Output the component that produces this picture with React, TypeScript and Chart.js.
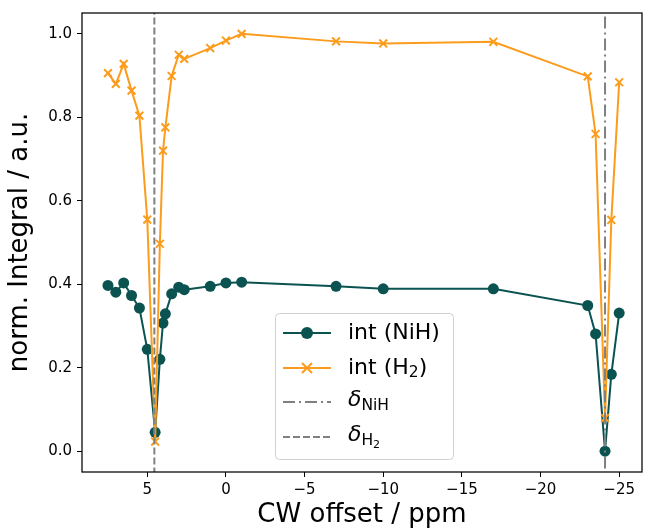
import React, { useEffect, useRef } from "react";
import { Chart, registerables } from "chart.js";

Chart.register(...registerables);

// ---- data ----
const offsets = [7.5, 7, 6.5, 6, 5.5, 5, 4.5, 4.2, 4, 3.85, 3.45, 3, 2.65, 1, 0, -1, -7, -10, -17, -23, -23.5, -24.1, -24.5, -25];
const intNiH = [0.397, 0.381, 0.403, 0.373, 0.343, 0.244, 0.045, 0.22, 0.307, 0.329, 0.377, 0.393, 0.387, 0.395, 0.403, 0.405, 0.395, 0.389, 0.389, 0.349, 0.281, 0.0, 0.184, 0.331];
const intH2 = [0.906, 0.88, 0.928, 0.864, 0.804, 0.555, 0.023, 0.497, 0.72, 0.776, 0.899, 0.95, 0.94, 0.966, 0.984, 1.0, 0.982, 0.977, 0.981, 0.898, 0.76, 0.079, 0.554, 0.884];
const deltaNiH = -24.1;
const deltaH2 = 4.55;
const xTicks = [5, 0, -5, -10, -15, -20, -25];
const yTicks = [0, 0.2, 0.4, 0.6, 0.8, 1.0];
const xRange = [-26.45, 9.15];
const yRange = [-0.05, 1.05];

const GREEN = "#0b5351";
const ORANGE = "#fb9c1c";
const GRAY = "#808080";
const FONT = "'DejaVu Sans', sans-serif";

type Seg = { t: string; size: number; dy: number; italic?: boolean };

function drawSegs(ctx: CanvasRenderingContext2D, x: number, y: number, segs: Seg[]) {
  let cx = x;
  for (const s of segs) {
    ctx.font = `${s.italic ? "italic " : ""}${s.size}px ${FONT}`;
    ctx.fillText(s.t, cx, y + s.dy);
    cx += ctx.measureText(s.t).width;
  }
}

const framePlugin = {
  id: "frame",
  afterDatasetsDraw(chart: any) {
    const { ctx, chartArea: a } = chart;
    ctx.save();
    ctx.strokeStyle = "#000";
    ctx.lineWidth = 1.25;
    ctx.strokeRect(a.left, a.top, a.right - a.left, a.bottom - a.top);
    ctx.restore();
  },
};

const legendPlugin = {
  id: "customLegend",
  afterDraw(chart: any) {
    const ctx: CanvasRenderingContext2D = chart.ctx;
    ctx.save();
    const x0 = 275, y0 = 313, w = 178, h = 146;
    ctx.beginPath();
    (ctx as any).roundRect(x0 + 0.5, y0 + 0.5, w, h, 4);
    ctx.fillStyle = "rgba(255,255,255,0.85)";
    ctx.fill();
    ctx.strokeStyle = "#d0d0d0";
    ctx.lineWidth = 1;
    ctx.stroke();

    const lx0 = 283, lx1 = 331, tx = 348;
    const rows = [333, 368, 402, 437];
    const fs = 22;
    const sub = 15.5;
    ctx.lineWidth = 2;
    // row 1
    ctx.strokeStyle = GREEN;
    ctx.setLineDash([]);
    ctx.beginPath(); ctx.moveTo(lx0, rows[0]); ctx.lineTo(lx1, rows[0]); ctx.stroke();
    ctx.fillStyle = GREEN;
    ctx.beginPath(); ctx.arc((lx0 + lx1) / 2, rows[0], 6, 0, Math.PI * 2); ctx.fill();
    // row 2
    ctx.strokeStyle = ORANGE;
    ctx.beginPath(); ctx.moveTo(lx0, rows[1]); ctx.lineTo(lx1, rows[1]); ctx.stroke();
    const mx = (lx0 + lx1) / 2, r = 5;
    ctx.beginPath();
    ctx.moveTo(mx - r, rows[1] - r); ctx.lineTo(mx + r, rows[1] + r);
    ctx.moveTo(mx - r, rows[1] + r); ctx.lineTo(mx + r, rows[1] - r);
    ctx.stroke();
    // row 3
    ctx.strokeStyle = GRAY;
    ctx.setLineDash([12, 4, 2, 4]);
    ctx.beginPath(); ctx.moveTo(lx0, rows[2]); ctx.lineTo(lx1, rows[2]); ctx.stroke();
    // row 4
    ctx.setLineDash([7, 3]);
    ctx.beginPath(); ctx.moveTo(lx0, rows[3]); ctx.lineTo(lx1, rows[3]); ctx.stroke();
    ctx.setLineDash([]);

    ctx.fillStyle = "#000";
    ctx.textBaseline = "middle";
    ctx.textAlign = "left";
    drawSegs(ctx, tx, rows[0], [{ t: "int (NiH)", size: fs, dy: 0 }]);
    drawSegs(ctx, tx, rows[1], [
      { t: "int (H", size: fs, dy: 0 },
      { t: "2", size: sub, dy: 5 },
      { t: ")", size: fs, dy: 0 },
    ]);
    drawSegs(ctx, tx, rows[2] - 2, [
      { t: "δ", size: fs, dy: 0, italic: true },
      { t: "NiH", size: sub, dy: 6 },
    ]);
    drawSegs(ctx, tx, rows[3] - 2, [
      { t: "δ", size: fs, dy: 0, italic: true },
      { t: "H", size: sub, dy: 6 },
      { t: "2", size: 11, dy: 10 },
    ]);
    ctx.restore();
  },
};

export default function App() {
  const ref = useRef<HTMLCanvasElement | null>(null);
  useEffect(() => {
    if (!ref.current) return;
    const vline = (x: number) => [
      { x, y: -0.2 },
      { x, y: 1.2 },
    ];
    const chart = new Chart(ref.current, {
      type: "scatter",
      data: {
        datasets: [
          {
            label: "δNiH",
            data: vline(deltaNiH),
            showLine: true,
            borderColor: GRAY,
            borderWidth: 2,
            borderDash: [12, 4, 2, 4],
            pointRadius: 0,
            order: 0,
          },
          {
            label: "δH2",
            data: vline(deltaH2),
            showLine: true,
            borderColor: GRAY,
            borderWidth: 2,
            borderDash: [7, 3],
            pointRadius: 0,
            order: 0,
          },
          {
            label: "int (H2)",
            data: offsets.map((x, i) => ({ x, y: intH2[i] })),
            showLine: true,
            borderColor: ORANGE,
            backgroundColor: ORANGE,
            borderWidth: 2,
            pointStyle: "crossRot",
            pointRadius: 5.5,
            pointBorderWidth: 2,
            order: 1,
          },
          {
            label: "int (NiH)",
            data: offsets.map((x, i) => ({ x, y: intNiH[i] })),
            showLine: true,
            borderColor: GREEN,
            backgroundColor: GREEN,
            borderWidth: 2,
            pointStyle: "circle",
            pointRadius: 5.5,
            pointBorderWidth: 0,
            order: 2,
          },
        ],
      },
      options: {
        responsive: false,
        animation: false,
        events: [],
        layout: { autoPadding: false, padding: { top: 13, right: 3, left: 0, bottom: 0 } },
        plugins: {
          legend: { display: false },
          tooltip: { enabled: false },
        },
        scales: {
          x: {
            type: "linear",
            reverse: true,
            min: xRange[0],
            max: xRange[1],
            border: { display: false },
            grid: { drawOnChartArea: false, drawTicks: true, tickLength: 5, color: "#000", lineWidth: 1 },
            afterBuildTicks: (s: any) => {
              s.ticks = xTicks.map((v) => ({ value: v }));
            },
            afterFit: (s: any) => {
              s.height = 528 - 472;
              s.paddingLeft = 0;
              s.paddingRight = 0;
            },
            ticks: {
              padding: 4,
              color: "#000",
              font: { family: FONT, size: 15 },
              maxRotation: 0,
              callback: (v: any) => String(v).replace("-", "\u2212"),
            },
            title: {
              display: true,
              text: "CW offset / ppm",
              color: "#000",
              font: { family: FONT, size: 26 },
              padding: { top: 0, bottom: -3 },
            },
          },
          y: {
            type: "linear",
            min: yRange[0],
            max: yRange[1],
            border: { display: false },
            grid: { drawOnChartArea: false, drawTicks: true, tickLength: 5, color: "#000", lineWidth: 1 },
            afterBuildTicks: (s: any) => {
              s.ticks = yTicks.map((v) => ({ value: v }));
            },
            afterFit: (s: any) => {
              s.width = 82;
              s.paddingTop = 0;
              s.paddingBottom = 0;
            },
            ticks: {
              padding: 5,
              color: "#000",
              font: { family: FONT, size: 15 },
              callback: (v: any) => Number(v).toFixed(1),
            },
            title: {
              display: true,
              text: "norm. Integral / a.u.",
              color: "#000",
              font: { family: FONT, size: 26 },
              padding: { top: 5, bottom: 0 },
            },
          },
        },
      },
      plugins: [framePlugin, legendPlugin],
    });
    return () => chart.destroy();
  }, []);

  return (
    <div style={{ position: "absolute", left: 0, top: 0, width: 645, height: 528, background: "#fff" }}>
      <canvas ref={ref} width={645} height={528} style={{ width: 645, height: 528 }} />
    </div>
  );
}
